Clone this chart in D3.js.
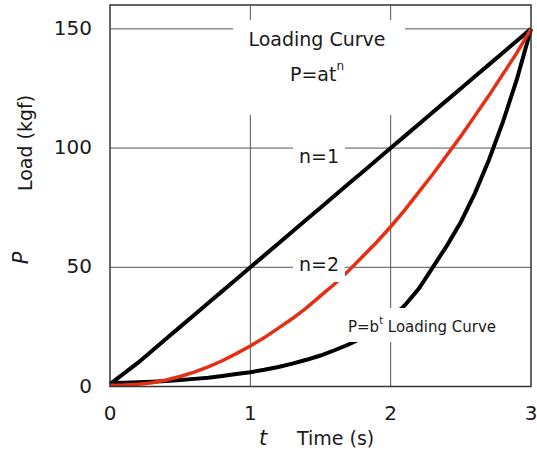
<!DOCTYPE html>
<html lang="en">
<head>
  <meta charset="UTF-8" />
  <title>Loading Curve</title>
  <script src="https://d3js.org/d3.v7.min.js"></script>
  <style>
    body { margin: 0; background: #fff; }
    svg text { font-family: "DejaVu Sans", sans-serif; fill: #1a1a1a; }
  </style>
</head>
<body>
  <div id="chart"></div>
  <script>
    // Time axis (s), one point every 0.1 s
    const times = [0, 0.1, 0.2, 0.3, 0.4, 0.5, 0.6, 0.7, 0.8, 0.9, 1.0,
      1.1, 1.2, 1.3, 1.4, 1.5, 1.6, 1.7, 1.8, 1.9, 2.0,
      2.1, 2.2, 2.3, 2.4, 2.5, 2.6, 2.7, 2.8, 2.9, 3.0];

    // Load (kgf)
    const loadN1 = [1, 5.5, 10, 15, 20, 25, 30, 35, 40, 45, 50,
      55, 60, 65, 70, 75, 80, 85, 90, 95, 100,
      105, 110, 115, 120, 125, 130, 135, 140, 145, 150];
    const loadN2 = [0.5, 0.6, 0.9, 1.6, 2.7, 4.2, 6, 8.2, 10.8, 13.8, 17,
      20.5, 24.5, 28.5, 33, 38, 43, 48.5, 54.5, 60.5, 67,
      74, 81.5, 89, 97, 105, 113.5, 122, 131, 140, 150];
    const loadBt = [1.5, 1.6, 1.8, 2, 2.3, 2.7, 3.2, 3.7, 4.4, 5.2, 6,
      7, 8.2, 9.6, 11.2, 13, 15.2, 17.6, 20.5, 24, 28.5,
      34, 41, 50, 59, 69, 81, 95, 111, 129, 150];

    const xTicks = [0, 1, 2, 3];
    const yTicks = [0, 50, 100, 150];

    const width = 537, height = 458;
    const plot = { left: 110, right: 531, top: 5, bottom: 386.5 };

    const svg = d3.select("#chart").append("svg")
      .attr("width", width)
      .attr("height", height);

    const x = d3.scaleLinear().domain([0, 3]).range([plot.left, plot.right]);
    const y = d3.scaleLinear().domain([0, 160]).range([plot.bottom, plot.top]);

    // grid lines
    svg.append("g")
      .selectAll("line")
      .data(xTicks.slice(1, 3))
      .join("line")
      .attr("x1", d => x(d)).attr("x2", d => x(d))
      .attr("y1", plot.top).attr("y2", plot.bottom)
      .attr("stroke", "#555").attr("stroke-width", 1);

    svg.append("g")
      .selectAll("line")
      .data(yTicks.slice(1))
      .join("line")
      .attr("x1", plot.left).attr("x2", plot.right)
      .attr("y1", d => y(d)).attr("y2", d => y(d))
      .attr("stroke", "#555").attr("stroke-width", 1);

    // curves
    const line = d3.line()
      .x((d, i) => x(times[i]))
      .y(d => y(d));

    svg.append("path").datum(loadBt)
      .attr("fill", "none").attr("stroke", "#000").attr("stroke-width", 4)
      .attr("d", line);
    svg.append("path").datum(loadN1)
      .attr("fill", "none").attr("stroke", "#000").attr("stroke-width", 4)
      .attr("d", line);
    svg.append("path").datum(loadN2)
      .attr("fill", "none").attr("stroke", "#e62e12").attr("stroke-width", 3.5)
      .attr("d", line);

    // frame
    svg.append("rect")
      .attr("x", plot.left).attr("y", plot.top)
      .attr("width", plot.right - plot.left)
      .attr("height", plot.bottom - plot.top)
      .attr("fill", "none").attr("stroke", "#333").attr("stroke-width", 1.5);

    // label boxes (white background that cuts the grid)
    const boxes = [
      { x0: 233, y0: 20, x1: 405, y1: 115 },
      { x0: 293, y0: 140, x1: 345, y1: 172 },
      { x0: 293, y0: 250, x1: 345, y1: 282 },
      { x0: 350, y0: 308, x1: 498, y1: 342 }
    ];
    svg.append("g").selectAll("rect")
      .data(boxes)
      .join("rect")
      .attr("x", d => d.x0).attr("y", d => d.y0)
      .attr("width", d => d.x1 - d.x0).attr("height", d => d.y1 - d.y0)
      .attr("fill", "#fff");

    const label = (tx, ty, size) => svg.append("text")
      .attr("x", tx).attr("y", ty)
      .attr("text-anchor", "middle")
      .attr("dominant-baseline", "central")
      .attr("font-size", size);

    label(317, 39, 19).text("Loading Curve");
    const pa = label(317, 74, 19);
    pa.append("tspan").text("P=at");
    pa.append("tspan").attr("font-size", 12).attr("dy", -8).text("n");
    label(319, 156, 19).text("n=1");
    label(319, 264, 19).text("n=2");
    const pb = svg.append("text")
      .attr("x", 348).attr("y", 327)
      .attr("dominant-baseline", "central")
      .attr("font-size", 15);
    pb.append("tspan").text("P=b");
    pb.append("tspan").attr("font-size", 10).attr("dy", -7).text("t");
    pb.append("tspan").attr("dy", 7).text(" Loading Curve");

    // tick labels
    svg.append("g").selectAll("text")
      .data(yTicks)
      .join("text")
      .attr("x", 92).attr("y", d => y(d) - 1)
      .attr("text-anchor", "end")
      .attr("dominant-baseline", "central")
      .attr("font-size", 20)
      .text(d => d);

    svg.append("g").selectAll("text")
      .data(xTicks)
      .join("text")
      .attr("x", d => x(d)).attr("y", 413)
      .attr("text-anchor", "middle")
      .attr("dominant-baseline", "central")
      .attr("font-size", 20)
      .text(d => d);

    // axis titles
    svg.append("text")
      .attr("x", 263).attr("y", 438)
      .attr("text-anchor", "middle").attr("dominant-baseline", "central")
      .attr("font-size", 21).attr("font-style", "italic")
      .text("t");
    svg.append("text")
      .attr("x", 297).attr("y", 438)
      .attr("dominant-baseline", "central")
      .attr("font-size", 19)
      .text("Time (s)");

    svg.append("text")
      .attr("transform", "translate(21,258) rotate(-90)")
      .attr("text-anchor", "middle").attr("dominant-baseline", "central")
      .attr("font-size", 21).attr("font-style", "italic")
      .text("P");
    svg.append("text")
      .attr("transform", "translate(25,143) rotate(-90)")
      .attr("text-anchor", "middle").attr("dominant-baseline", "central")
      .attr("font-size", 19)
      .text("Load (kgf)");
  </script>
</body>
</html>
